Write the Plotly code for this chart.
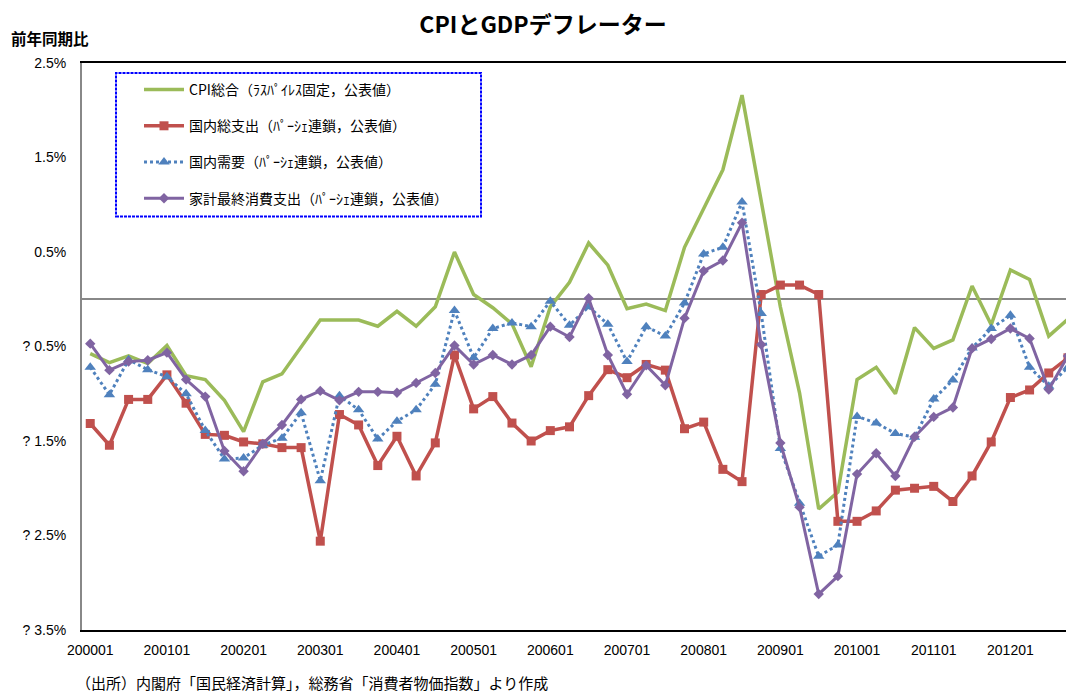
import plotly.graph_objects as go

# Quarter categories 2000Q1 .. 2012Q4
quarters = [f"{y}{q:02d}" for y in range(2000, 2013) for q in range(1, 5)]
tick_labels = [q for q in quarters if q.endswith("01")]

y_tickvals = [2.5, 1.5, 0.5, -0.5, -1.5, -2.5, -3.5]
y_ticktext = ["2.5%", "1.5%", "0.5%", "? 0.5%", "? 1.5%", "? 2.5%", "? 3.5%"]

cpi = [-0.575, -0.67, -0.60, -0.68, -0.49, -0.81, -0.85, -1.07, -1.40, -0.875,
       -0.79, -0.50, -0.22, -0.22, -0.22, -0.285, -0.127, -0.285, -0.08, 0.50,
       0.05, -0.09, -0.26, -0.715, -0.08, 0.18, 0.595, 0.36, -0.10, -0.05,
       -0.12, 0.55, 0.97, 1.37, 2.16, 1.05, -0.08, -0.99, -2.22, -2.04,
       -0.85, -0.72, -1.00, -0.30, -0.52, -0.43, 0.14, -0.27, 0.31, 0.21,
       -0.39, -0.21]

gdp = [-1.315, -1.545, -1.06, -1.06, -0.80, -1.10, -1.43, -1.44, -1.51, -1.53,
       -1.57, -1.57, -2.56, -1.22, -1.33, -1.76, -1.45, -1.87, -1.52, -0.59,
       -1.16, -1.03, -1.31, -1.50, -1.39, -1.35, -1.02, -0.745, -0.83, -0.69,
       -0.75, -1.37, -1.30, -1.80, -1.93, 0.05, 0.15, 0.15, 0.05, -2.35,
       -2.35, -2.24, -2.02, -2.00, -1.98, -2.14, -1.87, -1.51, -1.04, -0.96,
       -0.78, -0.62]

domestic = [-0.72, -1.01, -0.64, -0.745, -0.82, -1.00, -1.39, -1.69, -1.68, -1.545,
            -1.47, -1.20, -1.92, -1.02, -1.17, -1.48, -1.29, -1.17, -0.90, -0.12,
            -0.62, -0.31, -0.25, -0.29, -0.02, -0.275, -0.08, -0.265, -0.66, -0.29,
            -0.39, -0.04, 0.48, 0.55, 1.03, -0.15, -1.58, -2.16, -2.72, -2.60,
            -1.24, -1.31, -1.42, -1.46, -1.055, -0.855, -0.515, -0.31, -0.17, -0.72,
            -0.92, -0.72]

household = [-0.47, -0.75, -0.66, -0.645, -0.565, -0.85, -1.03, -1.605, -1.82, -1.53,
             -1.33, -1.06, -0.97, -1.07, -0.98, -0.98, -0.99, -0.885, -0.78, -0.49,
             -0.69, -0.59, -0.69, -0.59, -0.29, -0.40, 0.01, -0.59, -1.005, -0.70,
             -0.91, -0.20, 0.30, 0.41, 0.81, -0.48, -1.52, -2.20, -3.12, -2.93,
             -1.85, -1.63, -1.87, -1.455, -1.245, -1.145, -0.52, -0.42, -0.31, -0.415,
             -0.955, -0.60]

names = [
    "CPI総合（ﾗｽﾊﾟｲﾚｽ固定，公表値）",
    "国内総支出（ﾊﾟｰｼｪ連鎖，公表値）",
    "国内需要（ﾊﾟｰｼｪ連鎖，公表値）",
    "家計最終消費支出（ﾊﾟｰｼｪ連鎖，公表値）",
]

JP = "Noto Sans CJK JP"
W, H = 1066, 692
L, T, B = 82, 63, 62
PW, PH = W - L, H - T - B

def px_x(p):
    return (p - L) / PW

def px_y(p):
    return 1 - (p - T) / PH

fig = go.Figure()
fig.add_trace(go.Scatter(x=quarters, y=cpi, name=names[0], mode="lines",
                         line=dict(color="#9BBB59", width=3.5), legendgroup="a"))
fig.add_trace(go.Scatter(x=quarters, y=gdp, name=names[1], mode="lines+markers",
                         line=dict(color="#C0504D", width=3.5),
                         marker=dict(symbol="square", size=9, color="#C0504D"), legendgroup="b"))
fig.add_trace(go.Scatter(x=quarters, y=domestic, name=names[2], mode="lines+markers",
                         line=dict(color="#4F81BD", width=3, dash="dot"),
                         marker=dict(symbol="triangle-up", size=10, color="#4F81BD"), legendgroup="c"))
fig.add_trace(go.Scatter(x=quarters, y=household, name=names[3], mode="lines+markers",
                         line=dict(color="#8064A2", width=3),
                         marker=dict(symbol="diamond", size=8, color="#8064A2"), legendgroup="d"))

fig.update_layout(
    width=W, height=H,
    margin=dict(l=L, r=0, t=T, b=B),
    paper_bgcolor="white", plot_bgcolor="white",
    font=dict(family=JP, color="black"),
    title=dict(text="<b>CPIとGDPデフレーター</b>", x=543 / W, xref="container", xanchor="center",
               y=1 - 25 / H, yref="container", yanchor="middle",
               font=dict(family=JP, size=23, color="black")),
    showlegend=True,
    legend=dict(x=px_x(139), y=px_y(74), xanchor="left", yanchor="top",
                bgcolor="rgba(0,0,0,0)", borderwidth=0,
                font=dict(family=JP, size=14, color="black"),
                tracegroupgap=15, itemwidth=40),
    xaxis=dict(type="category", categoryorder="array", categoryarray=quarters,
               range=[-0.43, 50.9], tickmode="array", tickvals=tick_labels, ticktext=tick_labels,
               showgrid=False, zeroline=False, showline=True, linecolor="black", linewidth=2,
               mirror=True, ticks="outside", ticklen=6, tickcolor="rgba(0,0,0,0)",
               tickfont=dict(family="Liberation Sans", size=14, color="black"), tickangle=0),
    yaxis=dict(range=[-3.5, 2.5], tickmode="array", tickvals=y_tickvals, ticktext=y_ticktext,
               showgrid=False, zeroline=True, zerolinecolor="#888888", zerolinewidth=2,
               showline=True, linecolor="#888888", linewidth=2,
               ticks="outside", ticklen=11, tickcolor="rgba(0,0,0,0)",
               tickfont=dict(family="Liberation Sans", size=14, color="black")),
)

fig.add_shape(type="rect", xref="paper", yref="paper",
              x0=px_x(116), x1=px_x(481), y0=px_y(216.5), y1=px_y(73),
              line=dict(color="#0000FF", width=2, dash="3px,1px"), fillcolor="rgba(0,0,0,0)")

fig.add_annotation(text="<b>前年同期比</b>", xref="paper", yref="paper",
                   x=px_x(9), y=px_y(38), xanchor="left", yanchor="middle", showarrow=False,
                   font=dict(family=JP, size=15.5, color="black"))
fig.add_annotation(text="（出所）内閣府「国民経済計算」，総務省「消費者物価指数」より作成",
                   xref="paper", yref="paper", x=px_x(74), y=px_y(682),
                   xanchor="left", yanchor="middle", showarrow=False,
                   font=dict(family=JP, size=15, color="black"))

fig.write_html("out.html", config={"displayModeBar": False},
               post_script="document.body.style.margin='0';document.body.style.overflow='hidden';")
